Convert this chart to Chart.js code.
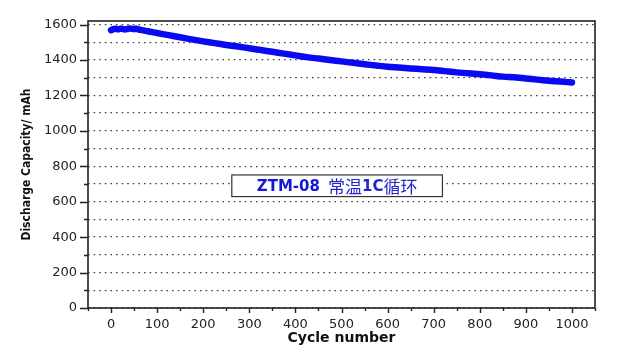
<!DOCTYPE html>
<html>
<head>
<meta charset="utf-8">
<script src="https://cdn.jsdelivr.net/npm/chart.js@4"></script>
<style>
    html, body { margin: 0; padding: 0; background: #fff; }
    #wrap { width: 627px; height: 363px; }
</style>
</head>
<body>
<div id="wrap"><canvas id="cycleChart" width="627" height="363"></canvas></div>
<script>
// cycle number vs discharge capacity (mAh)
const cycles = [0, 5, 10, 15, 20, 25, 30, 35, 40, 45, 50, 55, 60, 70, 80, 90, 100,
    125, 150, 175, 200, 225, 250, 275, 300, 325, 350, 375, 400, 425, 450, 475, 500,
    525, 550, 575, 600, 625, 650, 675, 700, 725, 750, 775, 800, 825, 850, 875, 900,
    925, 950, 975, 990, 1000];
const capacity = [1568, 1574, 1576, 1573, 1577, 1575, 1572, 1575, 1578, 1576, 1574, 1577, 1572, 1567, 1562, 1557, 1552,
    1540, 1528, 1516, 1505, 1495, 1485, 1476, 1466, 1456, 1446, 1436, 1426, 1416, 1408, 1400, 1392,
    1384, 1376, 1369, 1362, 1357, 1352, 1348, 1344, 1337, 1330, 1325, 1319, 1313, 1306, 1302, 1296,
    1289, 1283, 1278, 1275, 1273];

const xTicks = [-50, 1050, 50];   // min, max, step
const yTicks = [0, 1620, 100];
const labelText = ["ZTM-08", "常温", "1C", "循环"];

const axisColor = "#222";
const lineBlue = "#0a0af2";

// frame, tick marks and the label box
const framePlugin = {
    id: "frame",
    afterDraw(chart) {
        const ctx = chart.ctx;
        const a = chart.chartArea;
        const xs = chart.scales.x;
        const ys = chart.scales.y;

        ctx.save();
        ctx.strokeStyle = axisColor;
        ctx.lineWidth = 1.6;
        ctx.strokeRect(a.left, a.top, a.right - a.left, a.bottom - a.top);

        ctx.lineWidth = 1.4;
        ctx.beginPath();
        for (let v = yTicks[0]; v <= 1600; v += yTicks[2]) {
            const py = Math.round(ys.getPixelForValue(v)) + 0.5;
            const len = v % 200 === 0 ? 8 : 4;
            ctx.moveTo(a.left - len, py);
            ctx.lineTo(a.left, py);
        }
        for (let v = xTicks[0]; v <= xTicks[1]; v += xTicks[2]) {
            const px = Math.round(xs.getPixelForValue(v)) + 0.5;
            const len = v % 100 === 0 ? 5 : 3;
            ctx.moveTo(px, a.bottom);
            ctx.lineTo(px, a.bottom + len);
        }
        ctx.stroke();

        // label box
        const bx1 = xs.getPixelForValue(262), bx2 = xs.getPixelForValue(719);
        const by1 = ys.getPixelForValue(751), by2 = ys.getPixelForValue(629);
        ctx.fillStyle = "#fff";
        ctx.fillRect(bx1, by1, bx2 - bx1, by2 - by1);
        ctx.strokeStyle = "#333";
        ctx.lineWidth = 1.2;
        ctx.strokeRect(bx1, by1, bx2 - bx1, by2 - by1);

        const fonts = [
            "bold 15px 'DejaVu Sans'",
            "17px 'Noto Sans CJK SC'",
            "bold 15px 'DejaVu Sans'",
            "17px 'Noto Sans CJK SC'"
        ];
        const gaps = [8, 0, 0, 0];
        let total = 0;
        const widths = labelText.map((t, i) => {
            ctx.font = fonts[i];
            const w = ctx.measureText(t).width;
            total += w + gaps[i];
            return w;
        });
        let tx = (bx1 + bx2) / 2 - total / 2;
        const ty = (by1 + by2) / 2 + 1;
        ctx.textBaseline = "middle";
        ctx.textAlign = "left";
        labelText.forEach((t, i) => {
            ctx.font = fonts[i];
            ctx.fillStyle = i === 0 ? "#1616d8" : "#2424c8";
            ctx.fillText(t, tx, ty);
            tx += widths[i] + gaps[i];
        });
        ctx.restore();
    }
};

new Chart(document.getElementById("cycleChart"), {
    type: "line",
    data: {
        datasets: [{
            label: "ZTM-08",
            data: cycles.map((c, i) => ({ x: c, y: capacity[i] })),
            borderColor: lineBlue,
            backgroundColor: lineBlue,
            borderWidth: 6.5,
            borderCapStyle: "round",
            borderJoinStyle: "round",
            pointRadius: 0,
            tension: 0.3
        }]
    },
    options: {
        responsive: false,
        animation: false,
        layout: { padding: { left: 0, right: 32, top: 21, bottom: 0 } },
        plugins: {
            legend: { display: false },
            tooltip: { enabled: false }
        },
        scales: {
            x: {
                type: "linear",
                min: xTicks[0],
                max: xTicks[1],
                afterFit: s => { s.height = 55; },
                border: { display: false },
                grid: { display: true, drawOnChartArea: false, drawTicks: false, color: "rgba(0,0,0,0)" },
                ticks: {
                    stepSize: xTicks[2],
                    autoSkip: false,
                    maxRotation: 0,
                    padding: 9,
                    color: axisColor,
                    font: { family: "'DejaVu Sans'", size: 13 },
                    callback: v => (v % 100 === 0 ? v : "")
                },
                title: {
                    display: true,
                    text: "Cycle number",
                    color: "#111",
                    font: { family: "'DejaVu Sans'", size: 14, weight: "bold" },
                    padding: { top: 0, bottom: 16 }
                }
            },
            y: {
                min: yTicks[0],
                max: yTicks[1],
                afterFit: s => { s.width = 88; },
                border: { display: false, dash: [1.6, 4] },
                grid: { color: "#444", lineWidth: 1.3, drawTicks: false },
                ticks: {
                    stepSize: yTicks[2],
                    includeBounds: false,
                    autoSkip: false,
                    padding: 11,
                    color: axisColor,
                    font: { family: "'DejaVu Sans'", size: 13 },
                    callback: v => (v % 200 === 0 ? v : "")
                },
                title: {
                    display: true,
                    text: "Discharge Capacity/ mAh",
                    color: "#111",
                    font: { family: "'Liberation Sans Narrow', 'DejaVu Sans Condensed', sans-serif", size: 12, weight: "bold" },
                    padding: { top: 20, bottom: 0 }
                }
            }
        }
    },
    plugins: [framePlugin]
});
</script>
</body>
</html>
